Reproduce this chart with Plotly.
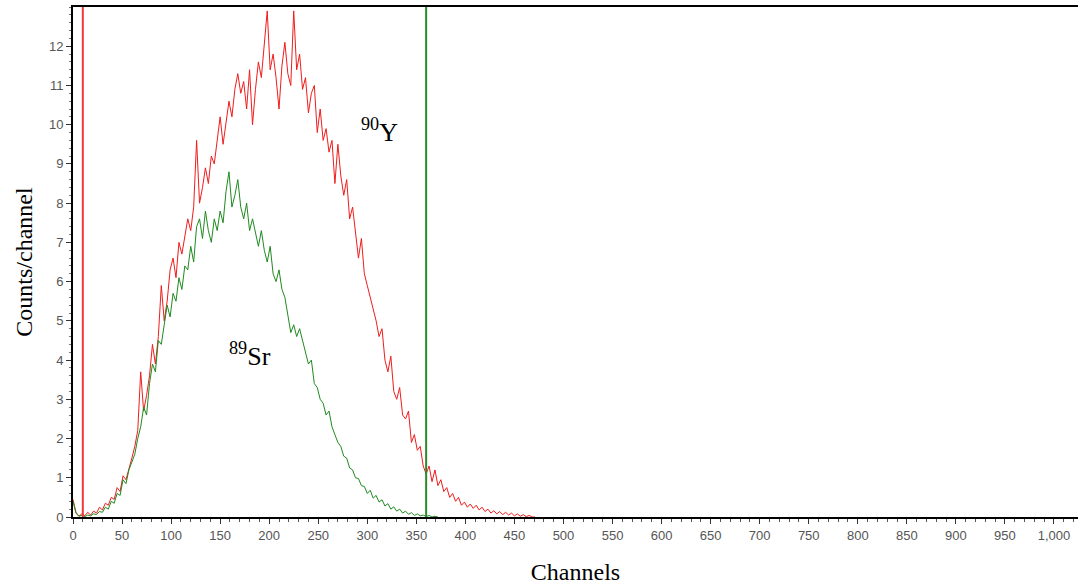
import plotly.graph_objects as go

# Channel grid (every 3 channels) and counts
y90_channels = list(range(0, 474, 3))
y90_counts = [
    0.45, 0.12, 0.02, 0.08, 0.03, 0.12, 0.05, 0.15, 0.1, 0.25,
    0.18, 0.35, 0.3, 0.5, 0.45, 0.75, 0.65, 1.05, 0.95, 1.2,
    1.5, 1.8, 2.2, 3.7, 2.7, 3.1, 3.6, 4.4, 3.9, 4.6,
    5.9, 5.0, 5.5, 6.3, 6.6, 6.1, 7.0, 6.7, 7.2, 7.6,
    7.3, 7.9, 9.6, 8.0, 8.4, 8.9, 8.5, 9.2, 9.0, 9.6,
    10.2, 9.5, 10.0, 10.6, 10.2, 10.9, 11.3, 10.8, 11.1, 10.4,
    11.4, 10.0, 10.9, 11.6, 11.2, 12.1, 12.9, 11.4, 11.8, 11.2,
    10.4, 11.5, 12.1, 11.3, 11.0, 12.9, 11.4, 11.8, 10.9, 11.2,
    10.3, 10.8, 11.0, 9.8, 10.4, 9.6, 9.9, 9.3, 9.6, 8.5,
    9.5, 8.7, 8.2, 8.6, 7.6, 7.9, 7.2, 6.6, 7.1, 6.2,
    5.9, 5.6, 5.3, 5.0, 4.6, 4.8, 4.0, 3.7, 4.1, 3.2,
    3.0, 3.3, 2.6, 2.5, 2.7, 1.9, 2.1, 1.7, 1.8, 1.3,
    1.1, 1.3, 0.9, 1.2, 0.8, 0.95, 0.65, 0.75, 0.5, 0.6,
    0.4, 0.5, 0.3, 0.38, 0.25, 0.33, 0.22, 0.3, 0.18, 0.25,
    0.14, 0.2, 0.1, 0.16, 0.08, 0.14, 0.06, 0.12, 0.05, 0.1,
    0.03, 0.08, 0.02, 0.06, 0.01, 0.04, 0.0, 0.0,
]

sr89_channels = list(range(0, 375, 3))
sr89_counts = [
    0.4, 0.1, 0.02, 0.04, 0.01, 0.05, 0.03, 0.08, 0.06, 0.14,
    0.12, 0.25, 0.2, 0.4, 0.35, 0.6, 0.55, 0.95, 0.85, 1.2,
    1.4, 1.6, 2.0, 2.3, 2.8, 2.6, 3.4, 3.9, 3.7, 4.5,
    4.4, 4.9, 5.4, 5.1, 5.7, 5.5, 6.1, 5.8, 6.4, 6.3,
    6.9, 6.5, 7.4, 7.6, 7.1, 7.8, 7.3, 7.0, 7.6, 7.3,
    7.8, 7.5, 8.3, 8.8, 7.9, 8.2, 8.6, 7.9, 7.6, 8.0,
    7.3, 7.6, 7.2, 6.9, 7.3, 6.8, 6.5, 6.9, 6.2, 6.0,
    6.3, 5.8, 5.6, 5.2, 4.7, 4.9, 4.6, 4.8, 4.5, 4.2,
    3.9, 4.0, 3.4, 3.3, 3.0, 2.9, 2.6, 2.7, 2.3, 2.1,
    1.9, 1.8, 1.55, 1.5, 1.25, 1.2, 1.0, 0.98, 0.8, 0.78,
    0.6, 0.68, 0.48, 0.55, 0.38, 0.44, 0.28, 0.34, 0.2, 0.26,
    0.15, 0.2, 0.1, 0.15, 0.07, 0.11, 0.04, 0.08, 0.03, 0.05,
    0.01, 0.04, 0.0, 0.02, 0.0,
]

# Region-of-interest marker channels
roi_red = 10
roi_green = 360

x_ticks = list(range(0, 1050, 50))
y_ticks = list(range(0, 13))

RED = "#f01c1c"
GREEN = "#1f8a1f"

n_r = min(len(y90_channels), len(y90_counts))
n_g = min(len(sr89_channels), len(sr89_counts))

fig = go.Figure()
fig.add_trace(go.Scatter(x=y90_channels[:n_r], y=y90_counts[:n_r], mode="lines",
                         line=dict(color=RED, width=1), showlegend=False))
fig.add_trace(go.Scatter(x=sr89_channels[:n_g], y=sr89_counts[:n_g], mode="lines",
                         line=dict(color=GREEN, width=1), showlegend=False))

fig.add_vline(x=roi_red, line=dict(color="#f03a3a", width=2))
fig.add_vline(x=roi_green, line=dict(color="#2a8a2a", width=2))

serif = "Liberation Serif, Times New Roman, serif"
fig.add_annotation(x=312, y=9.85, text="<sup>90</sup>Y", showarrow=False,
                   font=dict(family=serif, size=26, color="black"))
fig.add_annotation(x=180, y=4.15, text="<sup>89</sup>Sr", showarrow=False,
                   font=dict(family=serif, size=26, color="black"))

tickfont = dict(family="Arial, Liberation Sans, sans-serif", size=13, color="#555")

fig.update_layout(
    width=1078, height=587,
    margin=dict(l=73, r=0, t=7, b=70),
    plot_bgcolor="white", paper_bgcolor="white",
    xaxis=dict(
        range=[0, 1024.5], tickvals=x_ticks, tickformat=",d",
        automargin=False,
        showgrid=False, zeroline=False,
        showline=True, linecolor="black", linewidth=2, mirror=True,
        ticks="outside", ticklen=5, tickcolor="#333",
        minor=dict(dtick=10, ticks="outside", ticklen=3, tickcolor="#555"),
        tickfont=tickfont,
        title=dict(text="Channels", font=dict(family=serif, size=24, color="black"), standoff=22),
    ),
    yaxis=dict(
        range=[0, 13], tickvals=y_ticks,
        automargin=False,
        showgrid=False, zeroline=False,
        showline=True, linecolor="black", linewidth=2,
        ticks="outside", ticklen=5, tickcolor="#333",
        minor=dict(dtick=0.2, ticks="outside", ticklen=2, tickcolor="#777"),
        tickfont=tickfont,
        title=dict(text="Counts/channel", font=dict(family=serif, size=24, color="black"), standoff=10),
    ),
)

fig.write_html("out.html", config={"displayModeBar": False},
               post_script="document.body.style.margin='0';document.body.style.overflow='hidden';")
